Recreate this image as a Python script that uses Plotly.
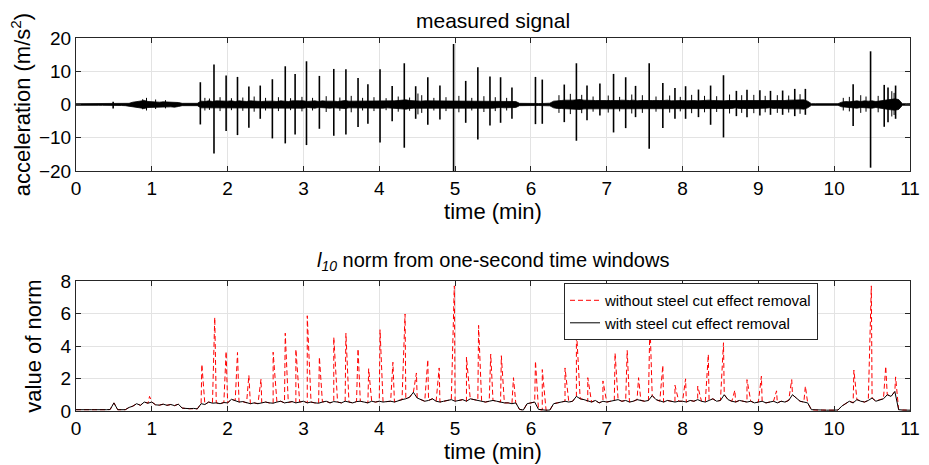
import numpy as np
import plotly.graph_objects as go

# ---------------- data ----------------
# sampling grid of the envelope / norm series (minutes)
t_grid = np.round(np.arange(221) * 0.05, 2)

# half-width of the background vibration band of the measured signal (m/s^2)
noise_env = [
    0.25, 0.25, 0.25, 0.25, 0.25, 0.25, 0.25, 0.25, 0.25, 0.25, 0.25, 0.25, 0.3, 0.35, 0.35, 0.7, 0.9, 1.0, 1.2, 0.9,
    0.8, 0.9, 0.7, 0.8, 0.75, 0.7, 0.8, 0.6, 0.35, 0.3, 0.3, 0.3, 0.35, 1.0, 0.9, 1.1, 0.9, 1.1, 1.0, 1.1,
    1.0, 1.1, 0.9, 1.1, 1.0, 0.9, 1.1, 1.0, 1.1, 0.9, 1.0, 1.1, 1.0, 0.9, 1.1, 1.0, 0.9, 1.1, 1.0, 1.1,
    1.1, 0.9, 1.0, 1.1, 0.9, 1.1, 1.0, 1.1, 1.0, 0.9, 1.1, 1.2, 1.0, 1.0, 1.1, 1.1, 0.9, 1.1, 1.1, 1.0,
    1.1, 1.1, 1.0, 1.1, 1.1, 1.2, 1.3, 1.4, 1.2, 1.1, 1.1, 1.0, 1.1, 1.1, 1.0, 0.9, 0.9, 1.0, 1.1, 1.1,
    1.1, 1.1, 1.0, 1.1, 1.1, 1.0, 1.1, 1.1, 1.0, 1.1, 1.1, 1.1, 0.9, 1.0, 0.9, 1.0, 0.9, 0.35, 0.3, 0.35,
    0.35, 0.3, 0.3, 0.3, 0.3, 0.4, 1.0, 1.2, 1.2, 1.3, 1.2, 1.3, 1.4, 1.5, 1.3, 1.2, 1.1, 1.2, 1.2, 1.1,
    1.2, 1.2, 1.1, 1.2, 1.3, 1.2, 1.2, 1.3, 1.1, 1.2, 1.3, 1.2, 1.2, 1.1, 1.2, 1.2, 1.3, 1.1, 1.2, 1.2,
    1.2, 1.1, 1.2, 1.2, 1.1, 1.2, 1.2, 1.3, 1.2, 1.1, 1.2, 1.1, 1.2, 1.2, 1.0, 1.2, 1.2, 1.1, 1.2, 1.2,
    1.1, 1.2, 1.1, 1.0, 1.2, 1.1, 1.2, 1.2, 1.3, 1.3, 1.2, 1.3, 1.4, 1.0, 0.25, 0.25, 0.25, 0.25, 0.25, 0.25,
    0.25, 0.25, 0.7, 0.9, 0.8, 1.0, 1.1, 0.9, 1.1, 1.0, 1.1, 0.9, 1.1, 1.2, 1.4, 1.6, 1.7, 1.5, 0.25, 0.25,
    0.25,
]

# steel-cut impulses in the measured signal
spike_t = [0.49, 1.64, 1.82, 1.98, 2.13, 2.28, 2.43, 2.59, 2.76, 2.89, 3.04, 3.21, 3.40, 3.56,
           3.72, 3.85, 4.01, 4.17, 4.33, 4.48, 4.64, 4.80, 4.98, 5.14, 5.30, 5.46, 5.60, 5.75,
           6.06, 6.15, 6.44, 6.60, 6.74, 6.91, 7.09, 7.25, 7.38, 7.56, 7.74, 7.90, 8.04, 8.21,
           8.37, 8.54, 8.71, 8.85, 9.02, 9.16, 9.32, 9.48, 9.62, 10.25, 10.48, 10.66, 10.71, 10.81]
spike_up = [0.8, 6.7, 12, 8.7, 8.3, 5.4, 5.7, 7.6, 11.5, 9.2, 13, 8.6, 10.7, 10.6,
            8, 6.1, 10.6, 5.6, 12.4, 5.5, 8.2, 5.7, 18.2, 7.1, 11.2, 8.4, 8.2, 5.1,
            8.3, 7.5, 6, 12.4, 5.7, 6.3, 9.2, 8.2, 5.6, 12.4, 6.5, 5, 5.5, 4.5,
            5.7, 8.8, 4.1, 4.4, 4.3, 4.1, 4.2, 4.7, 4.7, 6.1, 16, 5.9, 5.1, 5.7]
spike_dn = [-1.2, -6, -14.7, -8, -9.2, -7, -4.3, -10.2, -11.7, -9, -12.2, -7.3, -9.4, -9,
            -6.8, -5.8, -11.4, -5, -13, -4.3, -6.1, -4.5, -21, -5.5, -10.5, -6.3, -5.5, -4.3,
            -5.9, -5.8, -5.3, -10.9, -4.7, -3.3, -8.4, -7.1, -3.8, -13.3, -7.1, -4.3, -4.3, -3.8,
            -6.1, -9.9, -3.5, -3.8, -3.3, -3.1, -3.1, -3.5, -3.1, -6.5, -19, -6.7, -5.3, -4.3]

# smaller bursts inside the vibration band
minor_t = [0.88, 0.93, 1.05, 1.18,
           1.70, 1.76, 1.90, 2.05, 2.20, 2.35, 2.50, 2.67, 2.83, 2.98,
           3.12, 3.30, 3.48, 3.63, 3.78, 3.93, 4.09, 4.25, 4.40, 4.51,
           4.56, 4.72, 4.88, 5.05, 5.22, 5.38, 5.53, 5.68,
           6.37, 6.52, 6.67, 6.82, 7.02, 7.17, 7.33, 7.47, 7.65, 7.83,
           7.97, 8.12, 8.29, 8.45, 8.62, 8.78, 8.94, 9.09, 9.25, 9.40, 9.55,
           10.12, 10.20, 10.35, 10.42, 10.58, 10.76, 10.79]
minor_amp = [1.6, 2.0, 1.5, 1.3,
             2.0, 1.8, 2.2, 1.9, 2.1, 2.4, 2.0, 2.2, 1.9, 2.3,
             2.0, 2.5, 2.1, 2.6, 2.0, 2.2, 1.9, 2.4, 2.1, 3.3,
             2.8, 2.0, 2.2, 2.6, 2.0, 2.5, 2.2, 2.0,
             2.8, 3.2, 2.9, 2.4, 2.7, 2.3, 3.0, 2.8, 2.4, 2.7,
             2.3, 2.9, 2.6, 2.5, 3.0, 2.8, 2.9, 2.6, 2.8, 2.7, 3.1,
             2.0, 2.3, 2.8, 2.4, 2.6, 4.0, 3.5]

# l10 norm with steel cut effect removal (same grid as t_grid)
norm_with = [
    0.08, 0.07, 0.08, 0.07, 0.08, 0.08, 0.07, 0.08, 0.08, 0.09, 0.5, 0.08, 0.07, 0.08, 0.22, 0.3, 0.45, 0.35, 0.55, 0.48,
    0.55, 0.38, 0.36, 0.42, 0.35, 0.40, 0.33, 0.42, 0.18, 0.15, 0.14, 0.16, 0.13, 0.45, 0.40, 0.55, 0.48, 0.50, 0.45, 0.52,
    0.5, 0.72, 0.65, 0.55, 0.58, 0.5, 0.45, 0.5, 0.45, 0.5, 0.55, 0.5, 0.48, 0.55, 0.6, 0.5, 0.52, 0.58, 0.5, 0.55,
    0.6, 0.5, 0.55, 0.5, 0.48, 0.55, 0.6, 0.5, 0.58, 0.55, 0.5, 0.6, 0.55, 0.5, 0.58, 0.6, 0.55, 0.5, 0.6, 0.55,
    0.6, 0.55, 0.58, 0.6, 0.55, 0.65, 0.7, 0.75, 0.85, 1.15, 0.8, 0.7, 0.6, 0.65, 0.75, 0.6, 0.55, 0.6, 0.65, 0.7,
    0.6, 0.65, 0.7, 0.6, 0.75, 0.7, 0.65, 0.6, 0.55, 0.6, 0.65, 0.6, 0.55, 0.5, 0.5, 0.45, 0.5, 0.1, 0.06, 0.45,
    0.5, 0.55, 0.1, 0.06, 0.05, 0.06, 0.45, 0.5, 0.55, 0.6, 0.55, 0.6, 0.9, 0.75, 0.7, 0.6, 0.55, 0.65, 0.5, 0.6,
    0.55, 0.6, 0.65, 0.7, 0.6, 0.65, 0.55, 0.6, 0.7, 0.65, 0.6, 0.65, 0.95, 0.7, 0.6, 0.55, 0.65, 0.6, 0.55, 0.6,
    0.6, 0.55, 0.65, 0.6, 0.7, 0.6, 0.55, 0.65, 0.75, 0.6, 0.65, 1.0, 0.7, 0.6, 0.55, 0.65, 0.6, 0.55, 0.6, 0.5,
    0.55, 0.6, 0.5, 0.55, 0.6, 0.5, 0.6, 0.55, 0.65, 1.0, 0.8, 0.6, 0.55, 0.5, 0.08, 0.06, 0.05, 0.06, 0.05, 0.06,
    0.05, 0.06, 0.3, 0.45, 0.6, 0.5, 0.7, 0.6, 0.55, 0.65, 0.8, 0.6, 0.7, 0.75, 1.0, 0.9, 1.2, 0.08, 0.06, 0.05,
    0.05,
]

# peaks of the l10 norm without steel cut effect removal
peak_t = [0.97, 1.66, 1.83, 1.98, 2.13, 2.28, 2.44, 2.60, 2.76, 2.90, 3.05, 3.21, 3.40, 3.56,
          3.72, 3.86, 4.01, 4.18, 4.34, 4.49, 4.64, 4.79, 4.99, 5.15, 5.31, 5.47, 5.61, 5.77,
          6.06, 6.15, 6.45, 6.60, 6.75, 6.95, 7.11, 7.27, 7.42, 7.57, 7.74, 7.90, 8.04, 8.20,
          8.34, 8.54, 8.69, 8.85, 9.04, 9.24, 9.44, 9.62, 10.26, 10.49, 10.68, 10.81]
peak_v = [0.9, 2.87, 5.76, 3.67, 3.6, 2.2, 1.96, 3.62, 4.79, 3.8, 5.86, 3.32, 4.54, 4.79,
          3.83, 2.6, 5.0, 3.0, 5.97, 2.34, 3.16, 2.65, 7.7, 3.32, 5.27, 3.5, 3.4, 2.05,
          3.07, 2.55, 2.65, 5.05, 2.05, 1.85, 3.56, 3.73, 2.05, 5.5, 2.81, 1.59, 1.98, 1.53,
          3.48, 4.2, 1.28, 1.93, 2.14, 1.24, 1.93, 1.53, 2.52, 7.7, 2.75, 2.1]

x_ticks = list(range(0, 12))

# ---------------- build traces ----------------
env = np.array(noise_env)
band_x = np.concatenate([t_grid, t_grid[::-1]])
band_y = np.concatenate([env, -env[::-1]])

sx, sy = [], []
for t, u, d in zip(spike_t, spike_up, spike_dn):
    sx += [t, t, None]
    sy += [u, d, None]
mx, my = [], []
for t, a in zip(minor_t, minor_amp):
    mx += [t, t, None]
    my += [a, -0.9 * a, None]

# "without" series: norm series with the steel-cut peaks inserted
red_t = np.concatenate([t_grid, np.array(peak_t)])
red_v = np.concatenate([np.array(norm_with), np.array(peak_v)])
order = np.argsort(red_t, kind="stable")
red_t, red_v = red_t[order], red_v[order]

FONT = "Liberation Sans"
fig = go.Figure()
fig.add_trace(go.Scatter(x=band_x, y=band_y, mode="lines", fill="toself",
                         fillcolor="black", line=dict(color="black", width=0.8),
                         showlegend=False, hoverinfo="skip", xaxis="x", yaxis="y"))
fig.add_trace(go.Scatter(x=mx, y=my, mode="lines", line=dict(color="black", width=1),
                         showlegend=False, xaxis="x", yaxis="y"))
fig.add_trace(go.Scatter(x=sx, y=sy, mode="lines", line=dict(color="black", width=1.6),
                         showlegend=False, xaxis="x", yaxis="y"))
fig.add_trace(go.Scatter(x=red_t, y=red_v, mode="lines", name="without steel cut effect removal",
                         line=dict(color="#ff0000", width=1, dash="5px,3px"),
                         xaxis="x2", yaxis="y2"))
fig.add_trace(go.Scatter(x=t_grid, y=norm_with, mode="lines", name="with steel cut effect removal",
                         line=dict(color="black", width=1), xaxis="x2", yaxis="y2"))

axis_common = dict(showline=True, linecolor="#262626", linewidth=1, mirror="ticks",
                   ticks="inside", ticklen=5, tickcolor="#262626", automargin=False,
                   showgrid=True, gridcolor="#e3e3e3", gridwidth=1, zeroline=False,
                   tickfont=dict(family=FONT, size=19, color="black"))
title_font = dict(family=FONT, size=22, color="black")

fig.update_layout(
    width=929, height=465,
    margin=dict(l=76, r=19, t=38, b=54),
    paper_bgcolor="white", plot_bgcolor="white",
    xaxis=dict(domain=[0, 1], range=[0, 11], tickvals=x_ticks, anchor="y",
               title=dict(text="time (min)", font=title_font, standoff=0), **axis_common),
    yaxis=dict(domain=[0.6434, 1], range=[-20, 20], tickvals=[-20, -10, 0, 10, 20], anchor="x",
               title=dict(text="acceleration (m/s<sup>2</sup>)", font=title_font, standoff=2),
               **axis_common),
    xaxis2=dict(domain=[0, 1], range=[0, 11], tickvals=x_ticks, anchor="y2",
                title=dict(text="time (min)", font=title_font, standoff=0), **axis_common),
    yaxis2=dict(domain=[0, 0.3485], range=[0, 8], tickvals=[0, 2, 4, 6, 8], anchor="x2",
                title=dict(text="value of norm", font=title_font, standoff=12), **axis_common),
    legend=dict(x=0.8897, y=0.343, xanchor="right", yanchor="top",
                bgcolor="white", bordercolor="#262626", borderwidth=1,
                font=dict(family=FONT, size=15, color="black"), tracegroupgap=0),
    annotations=[
        dict(text="measured signal", x=0.5, y=1.048, xref="paper", yref="paper",
             xanchor="center", yanchor="middle", showarrow=False,
             font=dict(family=FONT, size=21, color="black")),
        dict(text="<i>l</i><sub><i>10</i></sub> norm from one-second time windows",
             x=0.5, y=0.401, xref="paper", yref="paper",
             xanchor="center", yanchor="middle", showarrow=False,
             font=dict(family=FONT, size=20, color="black")),
    ],
)

# remove the default page margin so the figure sits at the window's top-left corner
fig.write_html("out.html", config={"displayModeBar": False},
               post_script="document.body.style.margin='0px';document.body.style.overflow='hidden';")
